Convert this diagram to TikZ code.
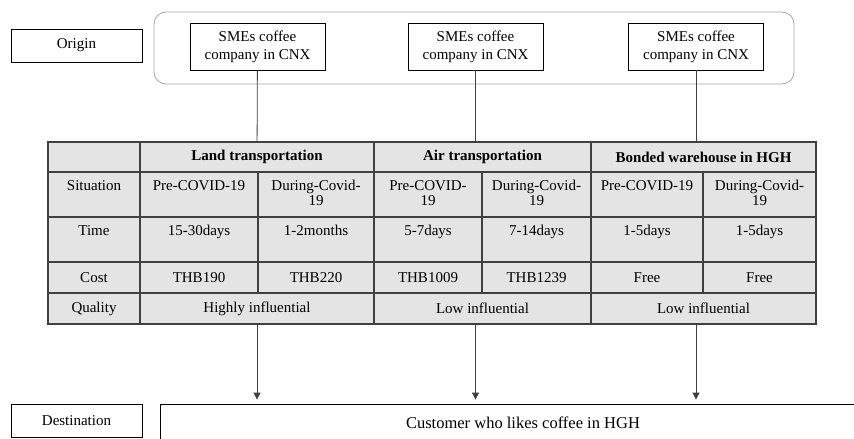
\documentclass[tikz,border=0pt]{standalone}
\usepackage{fontspec}
\setmainfont{Liberation Serif}
\usetikzlibrary{arrows.meta}

\definecolor{tfill}{RGB}{228,228,228}
\definecolor{tline}{RGB}{64,64,64}

\tikzstyle{cell} = [rectangle, draw=tline, fill=tfill, line width=1.5pt,
    inner sep=0pt, text centered, minimum height=31pt]
\tikzstyle{hcell} = [cell, minimum height=30pt,
    font=\fontsize{15}{18}\selectfont\bfseries]
\tikzstyle{celltext} = [anchor=north, yshift=-9pt, inner sep=0pt, align=center,
    font=\fontsize{15}{15}\selectfont]
\tikzstyle{tallcell} = [cell, minimum height=45pt, label={[celltext]north:#1}]
\tikzstyle{sidebox} = [rectangle, draw, line width=0.8pt,
    minimum width=131pt, minimum height=33pt]
\tikzstyle{smebox} = [rectangle, draw, line width=0.8pt, align=center,
    inner sep=0pt, minimum width=135pt, minimum height=47pt]
\tikzstyle{groupbox} = [rectangle, draw=black!35, line width=0.8pt,
    rounded corners=12pt, minimum width=640pt, minimum height=72pt]
\tikzstyle{destbox} = [rectangle, draw, line width=0.8pt,
    font=\fontsize{16.5}{20}\selectfont]
\tikzstyle{link} = [draw=black!75, line width=0.8pt]
\tikzstyle{flow} = [link, -{Triangle[length=7pt,width=7pt]}, shorten >=4pt]

\begin{document}
\begin{tikzpicture}[x=1pt, y=-1pt, font=\fontsize{15}{18}\selectfont]
	\clip (0,0) rectangle (854,439);
	% origin
	\node [sidebox] (origin) at (76.5,45.5) {Origin};
	\node [groupbox] (orig) at (474,48) {};
	\node [smebox] (sme1) at (257.5,46.5) {SMEs coffee\\company in CNX};
	\node [smebox] (sme2) at (475.5,46.5) {SMEs coffee\\company in CNX};
	\node [smebox] (sme3) at (696,46.5) {SMEs coffee\\company in CNX};
	%
	% header row
	\node [hcell, minimum width=92pt] (hcorner) at (94,157) {};
	\node [hcell, minimum width=234pt] (hland) at (257,157) {Land transportation};
	\node [hcell, minimum width=217pt] (hair) at (482.5,157) {Air transportation};
	\node [hcell, minimum width=225pt] (hbond) at (703.5,157) {Bonded warehouse in HGH};
	%
	% situation
	\node [tallcell=Situation, minimum width=92pt] (slab) at (94,194.5) {};
	\node [tallcell=Pre-COVID-19, minimum width=118pt] (spre1) at (199,194.5) {};
	\node [tallcell={During-Covid-\\19}, minimum width=116pt] (sdur1) at (316,194.5) {};
	\node [tallcell={Pre-COVID-\\19}, minimum width=108pt] (spre2) at (428,194.5) {};
	\node [tallcell={During-Covid-\\19}, minimum width=109pt] (sdur2) at (536.5,194.5) {};
	\node [tallcell=Pre-COVID-19, minimum width=112pt] (spre3) at (647,194.5) {};
	\node [tallcell={During-Covid-\\19}, minimum width=113pt] (sdur3) at (759.5,194.5) {};
	%
	% time
	\node [tallcell=Time, minimum width=92pt] (tlab) at (94,239.5) {};
	\node [tallcell=15-30days, minimum width=118pt] (tpre1) at (199,239.5) {};
	\node [tallcell=1-2months, minimum width=116pt] (tdur1) at (316,239.5) {};
	\node [tallcell=5-7days, minimum width=108pt] (tpre2) at (428,239.5) {};
	\node [tallcell=7-14days, minimum width=109pt] (tdur2) at (536.5,239.5) {};
	\node [tallcell=1-5days, minimum width=112pt] (tpre3) at (647,239.5) {};
	\node [tallcell=1-5days, minimum width=113pt] (tdur3) at (759.5,239.5) {};
	%
	% cost
	\node [cell, minimum width=92pt] (clab) at (94,277.5) {Cost};
	\node [cell, minimum width=118pt] (cpre1) at (199,277.5) {THB190};
	\node [cell, minimum width=116pt] (cdur1) at (316,277.5) {THB220};
	\node [cell, minimum width=108pt] (cpre2) at (428,277.5) {THB1009};
	\node [cell, minimum width=109pt] (cdur2) at (536.5,277.5) {THB1239};
	\node [cell, minimum width=112pt] (cpre3) at (647,277.5) {Free};
	\node [cell, minimum width=113pt] (cdur3) at (759.5,277.5) {Free};
	%
	% quality
	\node [cell, minimum width=92pt] (qlab) at (94,308.5) {Quality};
	\node [cell, minimum width=234pt] (qland) at (257,308.5) {Highly influential};
	\node [cell, minimum width=217pt] (qair) at (482.5,308.5) {Low influential};
	\node [cell, minimum width=225pt] (qbond) at (703.5,308.5) {Low influential};
	%
	% destination
	\node [sidebox] (destlab) at (76.5,420.5) {Destination};
	\node [destbox, minimum width=726pt, minimum height=37pt] (dest) at (523,422.5)
		{Customer who likes coffee in HGH};
	%
	\draw [link] (sme1) -- (hland);
	\draw [link] (sme2) -- (sme2 |- hair.north);
	\draw [link] (sme3) -- (sme3 |- hbond.north);
	\draw [flow] (qland) -- (qland |- dest.north);
	\draw [flow] (sme2 |- qair.south) -- (sme2 |- dest.north);
	\draw [flow] (sme3 |- qbond.south) -- (sme3 |- dest.north);
\end{tikzpicture}
\end{document}
